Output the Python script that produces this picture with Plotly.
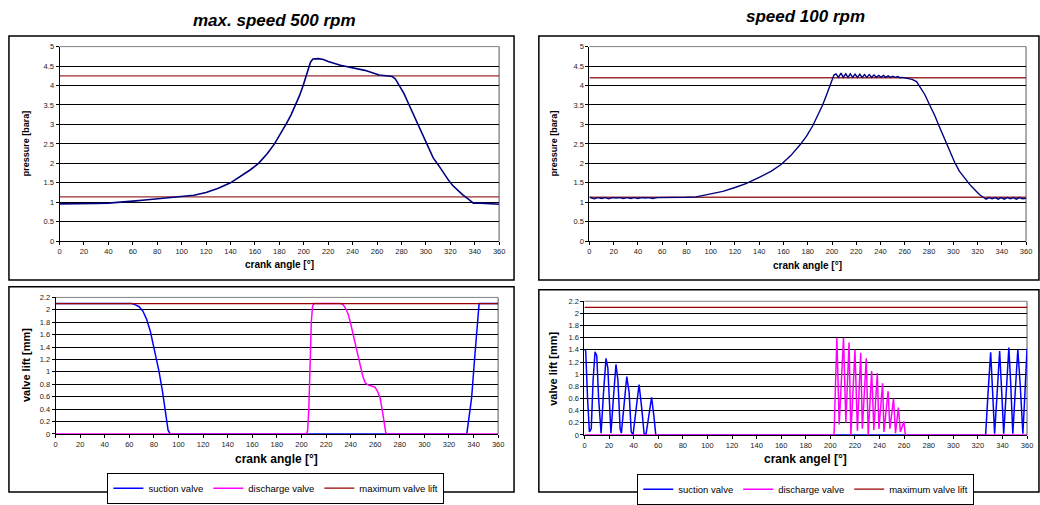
import plotly.graph_objects as go

# ---------------- data ----------------
x_ticks = list(range(0, 361, 20))
p_ticks = [0, 0.5, 1, 1.5, 2, 2.5, 3, 3.5, 4, 4.5, 5]
p_tick_text = ["0", "0.5", "1", "1.5", "2", "2.5", "3", "3.5", "4", "4.5", "5"]
v_ticks = [0, 0.2, 0.4, 0.6, 0.8, 1, 1.2, 1.4, 1.6, 1.8, 2, 2.2]
v_tick_text = ["0", "0.2", "0.4", "0.6", "0.8", "1", "1.2", "1.4", "1.6", "1.8", "2", "2.2"]

# pressure, max speed 500 rpm
p500_angle = [0, 10, 20, 30, 40, 50, 60, 70, 80, 90, 100, 110, 120, 130, 140, 150, 156, 163, 170,
              176, 181, 185.4, 189.5, 193.3, 196.5, 199.5, 203, 205.5, 207.5, 212, 216, 220, 230, 240,
              250, 261.7, 267, 272.5, 275, 277.9, 282, 286, 290, 294.2, 298, 302.3, 306, 310.4, 314,
              318.5, 322, 326.7, 330, 334.8, 338.9, 345, 352, 358, 360]
p500 = [0.96, 0.96, 0.97, 0.97, 0.98, 1.0, 1.03, 1.06, 1.09, 1.12, 1.14, 1.18, 1.25, 1.36, 1.5, 1.7,
        1.83, 2.0, 2.25, 2.5, 2.76, 3.0, 3.24, 3.5, 3.74, 4.0, 4.33, 4.6, 4.68, 4.69, 4.67, 4.62, 4.52,
        4.45, 4.39, 4.27, 4.25, 4.23, 4.17, 4.02, 3.8, 3.52, 3.24, 2.94, 2.66, 2.36, 2.14, 1.95, 1.77,
        1.57, 1.43, 1.29, 1.2, 1.08, 0.98, 0.98, 0.97, 0.97, 0.95]
p500_limit_angle = [0, 360]
p500_upper = [4.25, 4.25]
p500_lower = [1.14, 1.14]

# pressure, speed 100 rpm
p100_angle = [0, 2, 4, 7, 10, 13, 16, 19, 22, 25, 28, 31, 34, 37, 40, 43, 46, 49, 52, 56, 60, 70, 80,
              88, 100, 110, 120, 129, 140, 150, 158, 166, 174, 179, 184, 188, 192, 195, 197.5, 201.6,
              203.3, 205.3, 207.4, 209.3, 211.3, 213.2, 215.1, 217.0, 219.0, 221.0, 222.9, 224.9,
              226.8, 228.8, 230.7, 232.7, 234.6, 236.6, 238.5, 240.5, 242.4, 244.4, 246.3, 248.3,
              250.2, 252.2, 254.1, 256.1, 258, 263, 266, 269.7, 273, 276.5, 280.5, 284.7, 288.8,
              292.9, 297, 301.1, 305, 309.3, 313.5, 317.5, 321.5, 325.6, 327, 329.5, 332, 334.5, 337,
              339.5, 342, 344.5, 347, 349.5, 352, 354.5, 357, 360]
p100 = [1.13, 1.1, 1.09, 1.12, 1.1, 1.12, 1.09, 1.12, 1.11, 1.12, 1.1, 1.12, 1.1, 1.12, 1.1, 1.12,
        1.11, 1.12, 1.1, 1.12, 1.12, 1.12, 1.13, 1.14, 1.21, 1.28, 1.38, 1.48, 1.64, 1.8, 1.97, 2.2,
        2.49, 2.7, 2.96, 3.2, 3.48, 3.72, 3.94, 4.27,
        4.30, 4.21, 4.32, 4.21, 4.30, 4.21, 4.30, 4.21, 4.29, 4.21, 4.29, 4.21, 4.28, 4.21, 4.28,
        4.21, 4.27, 4.21, 4.26, 4.21, 4.26, 4.21, 4.25, 4.21, 4.24, 4.21, 4.23, 4.2, 4.21,
        4.19, 4.16, 4.1, 3.95, 3.77, 3.5, 3.23, 2.92, 2.61, 2.31, 2.03, 1.8, 1.62, 1.46, 1.33, 1.2,
        1.11, 1.08, 1.12, 1.09, 1.12, 1.08, 1.12, 1.08, 1.12, 1.09, 1.12, 1.08, 1.12, 1.09, 1.1]
p100_limit_angle = [0, 360]
p100_upper = [4.2, 4.2]
p100_lower = [1.13, 1.13]

# valve lift, max speed 500 rpm
s500_angle = [0, 62, 65, 68, 71, 74, 77, 80, 84, 87, 89.5, 91.5, 93, 94, 334.5, 336, 338.4, 340.6,
              342.7, 343.8, 344.5, 360]
s500 = [2.1, 2.1, 2.08, 2.05, 1.98, 1.85, 1.66, 1.4, 1.02, 0.68, 0.34, 0.06, 0.01, 0, 0, 0.2, 0.58,
        1.15, 1.72, 2.0, 2.1, 2.1]
d500_angle = [0, 204, 205, 206, 207, 208, 209, 210, 232, 234, 236, 238, 240, 242, 244, 246, 248, 250,
              252, 254, 256, 258, 260, 262, 264, 266, 267.5, 268.5, 269.5, 360]
d500 = [0, 0, 0.05, 0.4, 1.1, 1.8, 2.05, 2.1, 2.1, 2.08, 2.02, 1.93, 1.78, 1.6, 1.42, 1.26, 1.08,
        0.92, 0.82, 0.79, 0.78, 0.77, 0.75, 0.68, 0.58, 0.35, 0.15, 0.03, 0, 0]
max500_angle = [0, 360]
max500 = [2.1, 2.1]

# valve lift, speed 100 rpm
s100_angle = [0, 1, 2.5, 4, 5.5, 7, 8.6, 10, 11.5, 13.5, 15.5, 17.5, 19, 20.5, 21.5, 23.5, 25.6,
              27.2, 29, 30, 32.3, 34.4, 36.3, 38, 39.5, 42, 44.4, 46.5, 48.5, 50, 52.3, 54.6, 56.5,
              58, 59, 326.3, 328.3, 330.4, 332, 333.6, 335.7, 337.7, 339.4, 341, 343.2, 345.2, 346.8,
              348.4, 350.5, 352.5, 354.5, 356.6, 358.3, 360]
s100 = [1.4, 1.38, 0.6, 0.05, 0.1, 0.9, 1.37, 1.3, 0.6, 0.03, 0.7, 1.26, 1.1, 0.4, 0.03, 0.6, 1.16,
        0.9, 0.1, 0.03, 0.5, 0.96, 0.7, 0.05, 0, 0.45, 0.83, 0.45, 0.02, 0, 0.35, 0.62, 0.3, 0, 0,
        0, 0.7, 1.36, 0.7, 0.02, 0.7, 1.38, 0.7, 0.02, 0.75, 1.44, 0.8, 0.02, 0.75, 1.41, 0.8, 0.02,
        0.7, 1.42]
d100_angle = [0, 203, 205.3, 207.2, 210.7, 212.6, 215.2, 216.7, 220, 222, 224.7, 226, 229.2, 230.8,
              233.6, 235.4, 238.2, 239.5, 242.5, 243.6, 247, 248.4, 251.4, 253, 255.3, 257, 259.8,
              261, 360]
d100 = [0, 0, 1.6, 0.17, 1.6, 0.2, 1.52, 0.0, 1.4, 0.07, 1.35, 0.1, 1.26, 0.0, 1.05, 0.08, 1.02, 0.1,
        0.85, 0.05, 0.72, 0.1, 0.6, 0.03, 0.45, 0.05, 0.22, 0, 0]
max100_angle = [0, 360]
max100 = [2.1, 2.1]

# ---------------- figure ----------------
W, H = 1040, 505
FONT = "Liberation Sans, Arial, sans-serif"
NAVY = "#000080"
RED = "#9B2D2D"
BLUE = "#0000FF"
MAGENTA = "#FF00FF"


def px(v):
    return v / W


def py(v):
    return 1 - v / H


fig = go.Figure()

# top-left pressure
fig.add_trace(go.Scatter(x=p500_limit_angle, y=p500_upper, mode="lines", line=dict(color=RED, width=1.3),
                         xaxis="x", yaxis="y", showlegend=False, hoverinfo="skip"))
fig.add_trace(go.Scatter(x=p500_limit_angle, y=p500_lower, mode="lines", line=dict(color=RED, width=1.3),
                         xaxis="x", yaxis="y", showlegend=False, hoverinfo="skip"))
fig.add_trace(go.Scatter(x=p500_angle, y=p500, mode="lines", line=dict(color=NAVY, width=1.6),
                         xaxis="x", yaxis="y", showlegend=False))

# top-right pressure
fig.add_trace(go.Scatter(x=p100_limit_angle, y=p100_upper, mode="lines", line=dict(color=RED, width=1.3),
                         xaxis="x2", yaxis="y2", showlegend=False, hoverinfo="skip"))
fig.add_trace(go.Scatter(x=p100_limit_angle, y=p100_lower, mode="lines", line=dict(color=RED, width=1.3),
                         xaxis="x2", yaxis="y2", showlegend=False, hoverinfo="skip"))
fig.add_trace(go.Scatter(x=p100_angle, y=p100, mode="lines", line=dict(color=NAVY, width=1.4),
                         xaxis="x2", yaxis="y2", showlegend=False))

# bottom-left valve lift
fig.add_trace(go.Scatter(x=s500_angle, y=s500, mode="lines", name="suction valve",
                         line=dict(color=BLUE, width=1.5), xaxis="x3", yaxis="y3", legend="legend"))
fig.add_trace(go.Scatter(x=d500_angle, y=d500, mode="lines", name="discharge valve",
                         line=dict(color=MAGENTA, width=1.5), xaxis="x3", yaxis="y3", legend="legend"))
fig.add_trace(go.Scatter(x=max500_angle, y=max500, mode="lines", name="maximum valve lift",
                         line=dict(color="#990000", width=1.3), xaxis="x3", yaxis="y3", legend="legend"))

# bottom-right valve lift
fig.add_trace(go.Scatter(x=s100_angle, y=s100, mode="lines", name="suction valve",
                         line=dict(color=BLUE, width=1.5), xaxis="x4", yaxis="y4", legend="legend2"))
fig.add_trace(go.Scatter(x=d100_angle, y=d100, mode="lines", name="discharge valve",
                         line=dict(color=MAGENTA, width=1.5), xaxis="x4", yaxis="y4", legend="legend2"))
fig.add_trace(go.Scatter(x=max100_angle, y=max100, mode="lines", name="maximum valve lift",
                         line=dict(color="#990000", width=1.3), xaxis="x4", yaxis="y4", legend="legend2"))


def xax(dom, anchor):
    return dict(domain=dom, anchor=anchor, range=[0, 360], tickmode="array", tickvals=x_ticks,
                ticktext=[str(t) for t in x_ticks], showgrid=False, zeroline=False, showline=True,
                linecolor="black", linewidth=1, ticks="outside", ticklen=3, tickcolor="black",
                tickfont=dict(family=FONT, size=7.5, color="#222"), fixedrange=True)


def yax(dom, anchor, rng, vals, text):
    return dict(domain=dom, anchor=anchor, range=rng, tickmode="array", tickvals=vals, ticktext=text,
                showgrid=True, gridcolor="black", gridwidth=1, zeroline=False, showline=True,
                linecolor="black", linewidth=1, ticks="outside", ticklen=3, tickcolor="black",
                tickfont=dict(family=FONT, size=7.5, color="#222"), fixedrange=True)


top_y = [py(245), py(44)]
fig.update_layout(
    width=W, height=H, margin=dict(l=0, r=0, t=0, b=0),
    paper_bgcolor="white", plot_bgcolor="white",
    font=dict(family=FONT, color="black"),
    xaxis=xax([px(58), px(501)], "y"),
    yaxis=yax(top_y, "x", [0, 5], p_ticks, p_tick_text),
    xaxis2=xax([px(592), px(1032)], "y2"),
    yaxis2=yax(top_y, "x2", [0, 5], p_ticks, p_tick_text),
    xaxis3=xax([px(54), px(500)], "y3"),
    yaxis3=yax([py(444), py(303)], "x3", [0, 2.2], v_ticks, v_tick_text),
    xaxis4=xax([px(587), px(1033)], "y4"),
    yaxis4=yax([py(445), py(307)], "x4", [0, 2.2], v_ticks, v_tick_text),
    legend=dict(orientation="h", x=px(276), xanchor="center", y=py(484), yanchor="top",
                bordercolor="black", borderwidth=1, bgcolor="white",
                font=dict(family=FONT, size=9.5, color="black"), itemwidth=30, tracegroupgap=0),
    legend2=dict(orientation="h", x=px(810), xanchor="center", y=py(485), yanchor="top",
                 bordercolor="black", borderwidth=1, bgcolor="white",
                 font=dict(family=FONT, size=9.5, color="black"), itemwidth=30, tracegroupgap=0),
    showlegend=True,
)

shapes = []
# outer boxes
for (x0, y0, x1, y1) in [(7, 33, 516, 285), (541, 33, 1045, 285), (7, 292, 516, 504), (541, 295, 1045, 504)]:
    shapes.append(dict(type="rect", xref="paper", yref="paper", x0=px(x0), x1=px(x1), y0=py(y1), y1=py(y0),
                       line=dict(color="black", width=1.5), fillcolor="rgba(0,0,0,0)", layer="below"))
# plot area frames (gray top/right)
for ax in ["", "2", "3", "4"]:
    shapes.append(dict(type="line", xref=f"x{ax} domain", yref=f"y{ax} domain", x0=1, x1=1, y0=0, y1=1,
                       line=dict(color="#909090", width=1.5), layer="below"))
    shapes.append(dict(type="line", xref=f"x{ax} domain", yref=f"y{ax} domain", x0=0, x1=1, y0=1, y1=1,
                       line=dict(color="#808080", width=1), layer="below"))
fig.update_layout(shapes=shapes)

ann = []
ann.append(dict(text="<b><i>max. speed 500 rpm</i></b>", x=px(275), y=py(17), xref="paper", yref="paper",
                showarrow=False, font=dict(family=FONT, size=17, color="black"), xanchor="center", yanchor="middle"))
ann.append(dict(text="<b><i>speed 100 rpm</i></b>", x=px(810), y=py(13), xref="paper", yref="paper",
                showarrow=False, font=dict(family=FONT, size=17, color="black"), xanchor="center", yanchor="middle"))
for (x, y, t, s) in [(280, 269, "crank angle [°]", 10), (812, 270, "crank angle [°]", 10),
                     (277, 470, "crank angle [°]", 12), (810, 470, "crank angel [°]", 12)]:
    ann.append(dict(text=f"<b>{t}</b>", x=px(x), y=py(y), xref="paper", yref="paper", showarrow=False,
                    font=dict(family=FONT, size=s, color="black"), xanchor="center", yanchor="middle"))
for (x, y, t, s) in [(25, 144, "pressure [bara]", 9), (557, 144, "pressure [bara]", 9),
                     (24, 373, "valve lift [mm]", 11), (555, 377, "valve lift [mm]", 11)]:
    ann.append(dict(text=f"<b>{t}</b>", x=px(x), y=py(y), xref="paper", yref="paper", showarrow=False,
                    textangle=-90, font=dict(family=FONT, size=s, color="black"),
                    xanchor="center", yanchor="middle"))
fig.update_layout(annotations=ann)

fig.write_html("out.html")
